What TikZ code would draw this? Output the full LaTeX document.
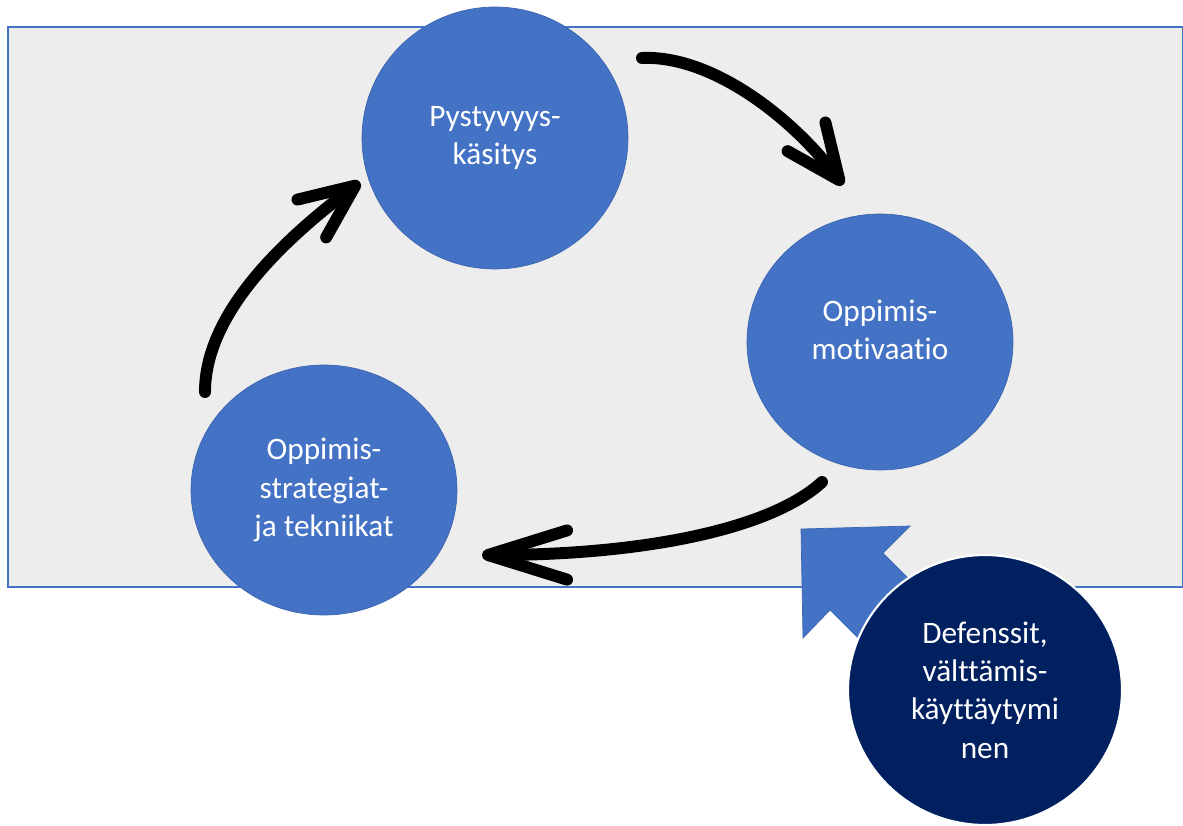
\documentclass[tikz,border=0pt]{standalone}
\usepackage{fontspec}
\setmainfont{Carlito}[Ligatures={NoCommon,NoRare,NoContextual}]
\usetikzlibrary{arrows.meta,shapes.geometric}
\definecolor{bggray}{HTML}{EDEDED}
\definecolor{midblue}{HTML}{4472C4}
\definecolor{edgeblue}{HTML}{3B64B0}
\definecolor{navyblue}{HTML}{002060}
\tikzset{
  bubble/.style={ellipse, fill=midblue, draw=edgeblue, line width=0.4pt, text=white,
    align=center, inner sep=0pt, font=\fontsize{17.8}{21.8}\selectfont,
    minimum width=5.32cm, minimum height=5.2cm},
  darkbubble/.style={bubble, fill=navyblue, draw=white, line width=1.2pt},
  cyclearrow/.style={line width=6.8pt, line cap=round,
    -{Straight Barb[length=31pt,width=27pt,round]}}
}
\begin{document}
\begin{tikzpicture}[x=0.02cm,y=-0.02cm]
\useasboundingbox (0,0) rectangle (1183,825);
% background panel
\draw[midblue, fill=bggray, line width=0.6pt] (8,27) rectangle (1183,587);

% block arrow behind the dark bubble
\filldraw[fill=midblue, draw=edgeblue, line width=0.4pt]
  (801,529) -- (910,526) -- (883,553) -- (950,620) -- (897,677) -- (830,610) -- (803,638) -- cycle;

\node[bubble, minimum height=5.24cm] (pyst) at (495,138) {Pystyvyys-\\käsitys};
\node[bubble, minimum height=5.12cm, text depth=14pt] (motiv) at (880,342) {Oppimis-\\motivaatio};
\node[bubble, minimum height=5cm] (strat) at (324,490) {Oppimis-\\strategiat-\\ja tekniikat};
\node[darkbubble, minimum width=5.48cm, minimum height=5.4cm] (defens) at (985,690)
  {Defenssit,\\välttämis-\\käyttäytymi\\nen};

% cycle arrows
\coordinate (toptail) at (642,58);
\coordinate (tophead) at (843,185);
\coordinate (lowtail) at (822,482);
\coordinate (lowhead) at (482,555);
\coordinate (lefttail) at (205,392);
\coordinate (lefthead) at (360,182);

\draw[cyclearrow] (toptail) .. controls (710,55) and (790,115) .. (tophead);
\draw[cyclearrow, -{Straight Barb[length=45pt,width=28pt,round]}]
  (lowtail) .. controls (770,530) and (640,555) .. (lowhead);
\draw[cyclearrow] (lefttail) .. controls (205,310) and (290,235) .. (lefthead);
\end{tikzpicture}
\end{document}
